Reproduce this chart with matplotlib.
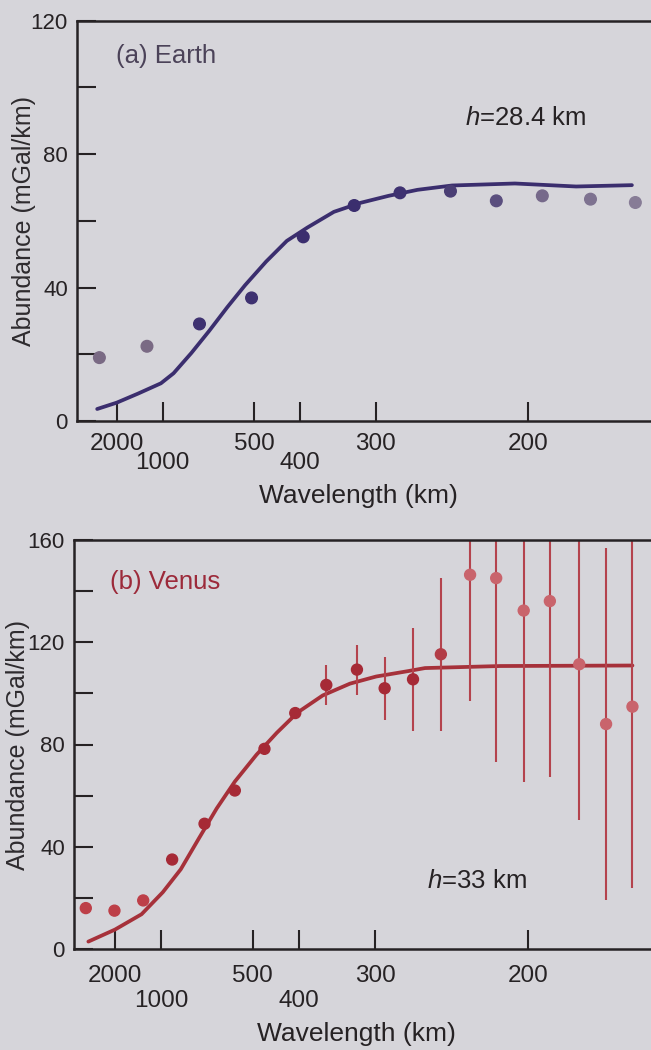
import numpy as np
import matplotlib
matplotlib.use("Agg")
import matplotlib.pyplot as plt
from matplotlib.ticker import MultipleLocator

plt.rcParams['font.family'] = ['Liberation Sans', 'DejaVu Sans']
plt.rcParams['mathtext.fontset'] = 'custom'
plt.rcParams['mathtext.it'] = 'Liberation Sans:italic'
plt.rcParams['mathtext.rm'] = 'Liberation Sans'

# wavelength axis (km), drawn linear in 1000/wavelength
tick_wl = [2000, 1000, 500, 400, 300, 200]
tick_labels = ["2000", "1000", "500", "400", "300", "200"]
tick_row = [0, 1, 0, 1, 0, 0]

# (a) Earth
earth_wl = [3257, 1208, 713, 507, 394, 323, 278, 241, 215, 194, 176, 162]
earth_val = [19.0, 22.4, 29.1, 36.9, 55.2, 64.6, 68.4, 68.9, 66.0, 67.5, 66.5, 65.5]
earth_fit_wl = [3534, 2012, 1372, 1020, 894, 761, 663, 586, 526, 469,
                424, 387, 348, 316, 288, 264, 240, 206, 181, 163]
earth_fit = [3.6, 5.5, 8.2, 11.3, 14.3, 20.4, 27.0, 34.1, 40.7, 47.8,
             54.0, 58.0, 62.7, 65.4, 67.5, 69.3, 70.6, 71.2, 70.3, 70.7]

# (b) Venus
venus_wl = [5495, 2024, 1239, 891, 678, 554, 470, 406, 357, 319,
            291, 267, 247, 229, 215, 202, 191, 180, 171, 163]
venus_val = [16.0, 15.0, 19.0, 35.0, 49.0, 62.0, 78.3, 92.3, 103.3, 109.3,
             102.0, 105.5, 115.3, 146.4, 145.1, 132.4, 136.1, 111.4, 88.0, 94.8]
venus_err = [0, 0, 0, 0, 0, 0, 0, 0, 7.9, 9.8,
             12.3, 20.2, 30.0, 49.2, 71.8, 66.9, 68.9, 61.0, 68.9, 70.8]
venus_fit_wl = [4762, 2000, 1267, 980, 822, 708, 622, 554, 490, 442,
                402, 362, 327, 299, 271, 258, 213, 163]
venus_fit = [2.9, 7.6, 13.6, 22.2, 31.2, 43.2, 55.0, 65.5, 76.0, 84.6,
             92.5, 99.2, 103.8, 106.6, 108.7, 109.9, 110.7, 110.9]

bg = "#d6d5da"
ink = "#262224"

earth_line = "#3b2e6e"
earth_dot_colors = ["#7a6a84", "#7a6a84", "#3e3170", "#3e3170", "#3b2e6e", "#3b2e6e",
                    "#3e3170", "#4a3e74", "#5a4e7e", "#76698a", "#7e7290", "#877c96"]
venus_line = "#a6313a"
venus_dot_colors = ["#bd3f48"] * 3 + ["#a62a36"] * 9 + ["#b23c46"] + ["#c9646c"] * 7


def kx(wl):
    return 1000.0 / np.asarray(wl, dtype=float)


def style(ax, ymax, xlim, pads):
    ax.set_facecolor(bg)
    ax.set_xlim(*xlim)
    ax.set_ylim(0, ymax)
    for s in ["left", "bottom", "top"]:
        ax.spines[s].set_linewidth(1.8)
        ax.spines[s].set_color(ink)
    ax.spines["right"].set_visible(False)
    ax.set_xticks(kx(tick_wl), labels=tick_labels)
    ax.set_yticks(np.arange(0, ymax + 1, 40))
    ax.yaxis.set_minor_locator(MultipleLocator(20))
    ax.tick_params(axis="both", which="both", direction="in", length=13.5,
                   width=1.5, color=ink, labelcolor=ink)
    ax.tick_params(axis="x", labelsize=17.5)
    ax.tick_params(axis="y", labelsize=16, pad=6.5)
    for t, r in zip(ax.xaxis.get_major_ticks(), tick_row):
        t.set_pad(pads[r])
    ax.set_xlabel("Wavelength (km)", fontsize=19, color=ink, labelpad=7)
    ax.xaxis.label.set_x(0.49)


fig = plt.figure(figsize=(6.51, 10.5), dpi=100, facecolor=bg)

# ---- (a) Earth
ax1 = fig.add_axes([77 / 651, 1 - 421 / 1050, 574 / 651, 400.3 / 1050])
style(ax1, 120, (0.062, 6.344), (8.6, 22.5))
ax1.plot(kx(earth_fit_wl), earth_fit, color=earth_line, lw=2.7,
         solid_capstyle="round", solid_joinstyle="round", zorder=2)
ax1.scatter(kx(earth_wl), earth_val, s=70, c=earth_dot_colors, zorder=3)
ax1.text(0.068, 0.894, "(a) Earth", transform=ax1.transAxes, fontsize=18.5,
         color="#4b4258", va="baseline")
ax1.text(0.676, 0.739, r"$h$=28.4 km", transform=ax1.transAxes, fontsize=18.5,
         color=ink, va="baseline")
ax1.set_ylabel("Abundance (mGal/km)", fontsize=18, color="#2e2b2e",
               rotation_mode="default", va="center", ha="center")
ax1.yaxis.set_label_coords(-0.092, 0.5)

# ---- (b) Venus
ax2 = fig.add_axes([74 / 651, 1 - 949 / 1050, 577 / 651, 409 / 1050])
style(ax2, 160, (0.0535, 6.337), (11.5, 29.5))
ax2.plot(kx(venus_fit_wl), venus_fit, color=venus_line, lw=2.7,
         solid_capstyle="round", solid_joinstyle="round", zorder=2)
ax2.errorbar(kx(venus_wl), venus_val, yerr=venus_err, fmt="none",
             ecolor="#b4434d", elinewidth=1.5, capsize=0, zorder=2)
ax2.scatter(kx(venus_wl), venus_val, s=62, c=venus_dot_colors, zorder=3)
ax2.text(0.0624, 0.880, "(b) Venus", transform=ax2.transAxes, fontsize=18.5,
         color="#9c2a3a", va="baseline")
ax2.text(0.612, 0.148, r"$h$=33 km", transform=ax2.transAxes, fontsize=18.5,
         color=ink, va="baseline")
ax2.set_ylabel("Abundance (mGal/km)", fontsize=18, color="#2e2b2e",
               rotation_mode="default", va="center", ha="center")
ax2.yaxis.set_label_coords(-0.0977, 0.5)

fig.savefig("out.png", dpi=100, facecolor=bg)
